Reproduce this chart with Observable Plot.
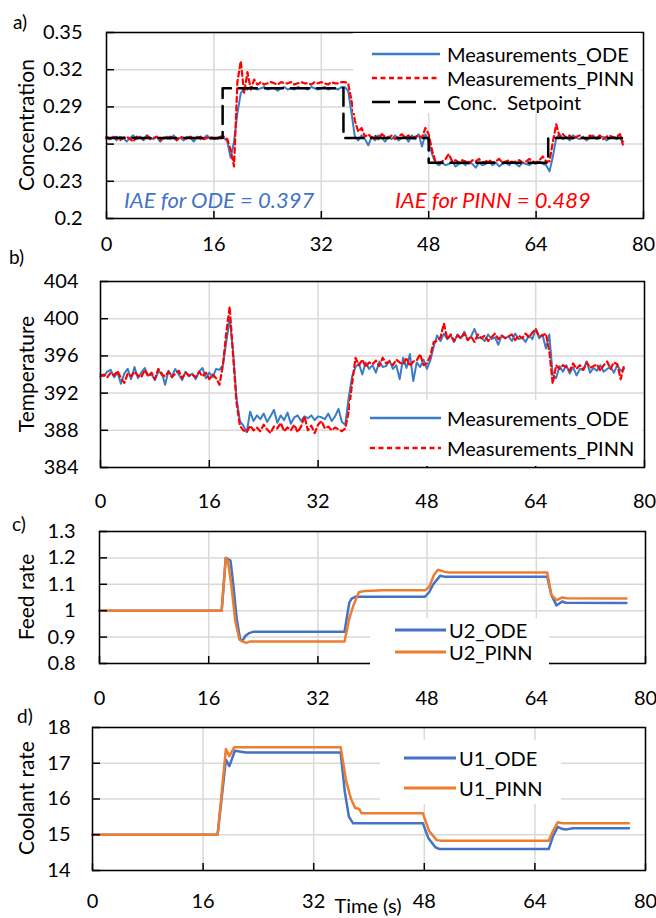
<!DOCTYPE html>
<html><head><meta charset="utf-8">
<script src="https://cdn.jsdelivr.net/npm/d3@7"></script>
<script src="https://cdn.jsdelivr.net/npm/@observablehq/plot@0.6"></script>
<style>
html,body{margin:0;padding:0;background:#fff;}
#fig{position:relative;width:656px;height:918px;overflow:hidden;font-family:Lato,"Open Sans",sans-serif;background:#fff;}
</style></head><body><div id="fig"></div>
<script>
// ---------- data ----------
const tStep = 0.5; // measurement sampling interval (s), first sample at t = 0
const concODE = [0.265,0.264,0.266,0.263,0.266,0.265,0.262,0.265,0.267,0.264,0.266,0.263,0.267,0.265,0.264,0.266,0.262,0.265,0.266,0.264,0.267,0.264,0.265,0.263,0.266,0.265,0.262,0.266,0.264,0.265,0.267,0.264,0.265,0.264,0.266,
 0.265,0.262,0.249,0.262,0.285,0.301,0.305,
 0.304,0.306,0.305,0.304,0.305,0.306,0.304,0.305,0.305,0.303,0.305,0.306,0.304,0.305,0.304,0.306,0.305,0.305,0.304,0.306,0.305,0.304,0.305,0.306,0.304,0.305,0.305,0.304,0.306,0.306,
 0.303,0.285,0.266,0.263,
 0.267,0.264,0.259,0.266,0.263,0.267,0.265,0.262,0.266,0.264,0.267,0.263,0.265,0.266,0.262,0.267,0.264,0.268,0.258,0.268,
 0.262,0.252,0.245,0.243,
 0.245,0.243,0.244,0.246,0.242,0.244,0.245,0.243,0.246,0.244,0.241,0.245,0.243,0.244,0.246,0.243,0.245,0.242,0.244,0.245,0.243,0.246,0.244,0.242,0.245,0.244,0.243,0.245,0.244,0.246,0.244,0.243,
 0.238,0.25,0.265,0.268,
 0.264,0.266,0.263,0.267,0.265,0.264,0.266,0.263,0.265,0.267,0.264,0.265,0.266,0.263,0.265,0.266,0.264,0.265,0.262];
const concPINN = [0.266,0.264,0.265,0.266,0.263,0.265,0.266,0.264,0.262,0.266,0.265,0.264,0.267,0.264,0.265,0.266,0.263,0.265,0.264,0.266,0.265,0.263,0.266,0.265,0.264,0.266,0.264,0.265,0.266,0.264,0.265,0.266,0.264,0.265,0.266,
 0.266,0.264,0.255,0.242,0.31,0.327,0.301,
 0.318,0.304,0.312,0.308,0.310,0.308,0.309,0.310,0.309,0.308,0.310,0.309,0.309,0.310,0.308,0.309,0.310,0.309,0.309,0.308,0.310,0.309,0.310,0.309,0.308,0.310,0.309,0.309,0.310,0.310,
 0.309,0.295,0.279,0.270,
 0.273,0.266,0.268,0.265,0.267,0.264,0.268,0.266,0.265,0.267,0.264,0.266,0.268,0.265,0.267,0.264,0.266,0.267,0.265,0.273,
 0.268,0.255,0.246,0.245,
 0.246,0.248,0.252,0.246,0.247,0.245,0.247,0.246,0.244,0.247,0.246,0.248,0.245,0.246,0.247,0.245,0.246,0.248,0.245,0.246,0.247,0.245,0.246,0.247,0.245,0.246,0.248,0.246,0.245,0.247,0.250,0.246,
 0.246,0.262,0.276,0.266,
 0.268,0.265,0.267,0.264,0.266,0.267,0.265,0.264,0.267,0.266,0.265,0.267,0.264,0.266,0.267,0.265,0.266,0.268,0.258];
const setpointT = [0,17.3,35.3,48,65.8,76.8];
const setpointV = [0.265,0.305,0.265,0.245,0.265,0.265];

const tempODE = [394.0,393.8,394.3,394.5,393.7,394.2,393.0,394.1,394.6,393.5,394.8,393.6,394.2,394.7,393.9,394.0,393.4,394.3,394.2,392.9,394.4,393.8,394.6,394.0,393.4,394.3,393.8,394.1,393.5,394.3,394.7,393.6,394.2,393.7,394.6,
 394.5,395.0,397.5,400.0,396.5,391.5,389.0,
 388.5,387.8,390.0,389.0,389.6,389.2,389.8,388.9,389.5,390.2,388.8,389.6,389.1,389.9,388.7,389.4,389.6,389.0,389.5,389.3,389.6,389.1,389.5,389.4,389.2,389.8,389.0,389.5,390.3,388.9,
 388.6,391.5,393.8,394.8,
 395.2,394.0,395.3,394.6,395.0,394.2,395.4,394.8,394.9,395.5,394.6,395.0,393.5,395.8,394.7,396.2,393.3,395.3,394.8,395.6,
 394.6,395.5,397.0,398.2,
 397.6,398.4,397.8,398.2,397.5,398.3,397.9,398.6,397.7,398.1,398.9,397.9,398.0,397.6,398.3,397.8,398.0,397.2,398.2,397.9,398.1,397.6,398.4,397.8,398.0,397.5,398.2,397.8,398.9,397.9,398.3,396.8,
 398.3,394.0,393.6,394.9,
 394.3,395.0,394.1,394.8,393.9,394.6,394.5,395.4,394.2,394.7,394.4,395.0,394.3,394.6,394.8,394.2,395.0,394.4,394.6];
const tempPINN = [393.8,394.0,393.7,394.2,393.9,394.4,393.6,393.1,394.1,393.8,394.3,393.9,393.7,394.5,393.8,394.2,393.5,394.6,394.0,393.8,394.3,393.7,394.1,394.4,393.6,394.2,393.9,394.0,393.7,394.3,393.8,394.2,393.5,394.0,393.6,
 392.9,395.0,398.5,401.3,396.0,391.0,388.5,
 388.0,387.8,388.5,388.0,388.3,387.9,388.6,388.1,387.7,388.4,388.2,388.8,387.9,388.3,388.0,388.6,387.8,388.4,389.5,388.0,388.5,387.7,388.6,389.0,388.2,388.4,388.0,388.3,388.1,387.9,
 388.2,390.0,393.0,395.8,
 395.0,395.6,394.8,395.3,395.1,395.5,394.9,395.8,395.2,395.4,395.0,395.6,395.3,395.1,395.8,394.9,395.4,395.5,396.2,395.0,
 395.2,396.0,397.5,397.6,
 398.0,399.5,397.8,398.3,397.6,398.2,397.9,398.4,397.7,398.1,397.5,398.3,397.9,398.2,397.6,398.0,398.4,397.8,398.2,397.9,398.1,398.3,397.7,398.2,397.9,398.4,398.0,398.5,398.9,398.1,398.2,398.4,
 396.5,393.0,395.0,394.6,
 395.0,394.8,394.4,395.2,394.6,395.0,394.5,395.3,394.7,394.9,395.1,394.4,395.0,395.4,394.6,395.3,395.1,393.5,395.0];

const u2OdeT  = [0,17.9,18.5,19.2,19.6,20.1,20.6,20.9,21.4,21.9,22.5,35.9,36.6,36.9,37.5,47.7,48.3,48.9,49.9,50.5,65.6,66.2,66.95,67.8,68.3,77.2];
const u2OdeV  = [1.0,1.0,1.2,1.19,1.1,0.97,0.893,0.885,0.905,0.915,0.92,0.92,1.03,1.045,1.053,1.053,1.07,1.10,1.132,1.129,1.129,1.06,1.02,1.035,1.03,1.029];
const u2PinnT = [0,17.9,18.5,18.8,19.3,19.9,20.5,21.0,21.5,22.0,35.9,36.6,37.2,38.0,38.9,41.5,47.7,48.3,49.0,49.6,50.5,51.2,65.6,66.2,66.95,67.8,68.5,77.2];
const u2PinnV = [1.0,1.0,1.2,1.19,1.1,0.96,0.89,0.883,0.878,0.883,0.883,0.97,1.02,1.07,1.075,1.077,1.077,1.09,1.135,1.155,1.148,1.145,1.145,1.06,1.04,1.05,1.047,1.046];

const u1OdeT  = [0,18.1,19.3,19.8,20.6,21.5,22.2,35.9,36.5,37.1,37.7,47.8,48.6,49.6,50.2,66.0,66.6,67.3,68.0,68.6,69.5,77.6];
const u1OdeV  = [15,15,17.1,16.92,17.35,17.32,17.3,17.3,16.2,15.5,15.32,15.32,14.9,14.65,14.6,14.6,14.95,15.22,15.16,15.15,15.18,15.18];
const u1PinnT = [0,18.1,19.3,19.8,20.5,21.5,35.9,36.7,37.4,38.0,38.6,38.9,47.8,48.7,49.8,50.5,66.0,66.6,67.3,68.0,77.6];
const u1PinnV = [15,15,17.4,17.2,17.45,17.45,17.45,16.5,16.0,15.75,15.72,15.6,15.6,15.1,14.85,14.83,14.83,15.1,15.35,15.32,15.32];

const xTicks  = [0,16,32,48,64,80];
const yTicksA = [0.2,0.23,0.26,0.29,0.32,0.35];
const yTicksB = [384,388,392,396,400,404];
const yTicksC = [0.8,0.9,1,1.1,1.2,1.3];
const yTicksD = [14,15,16,17,18];

const panelLabels = ["a)","b)","c)","d)"];
const yTitles = ["Concentration","Temperature","Feed rate","Coolant rate"];
const xTitle = "Time (s)";
const legendA = ["Measurements_ODE","Measurements_PINN","Conc.  Setpoint"];
const legendB = ["Measurements_ODE","Measurements_PINN"];
const legendC = ["U2_ODE","U2_PINN"];
const legendD = ["U1_ODE","U1_PINN"];
const iaeODE = "IAE for ODE = 0.397";
const iaePINN = "IAE for PINN = 0.489";

// ---------- helpers ----------
const BLUE_M = "#3a7dc4", RED = "#ff0000", BLUE = "#4472c4", ORANGE = "#ed7d31";
const RED_DASH = "5,3.5";
const sampled = vals => vals.map((v, i) => ({t: i * tStep, v}));
const paired = (ts, vs) => ts.map((t, i) => ({t, v: vs[i]}));
const fig = document.getElementById("fig");

function panel({top, height, mt, mb, ml, mr, yDomain, yTicks, xPad, yPad, marks}) {
  const innerH = height - mt - mb;
  const innerW = 656 - ml - mr;
  const svg = Plot.plot({
    width: 656, height,
    marginTop: mt, marginBottom: mb, marginLeft: ml, marginRight: mr,
    style: {fontFamily: "Lato, 'Open Sans', sans-serif", fontSize: "20px", color: "#000", background: "transparent", overflow: "visible"},
    x: {domain: [0, 80]},
    y: {domain: yDomain},
    marks: [
      Plot.gridX({ticks: xTicks, stroke: "#d9d9d9", strokeOpacity: 1, strokeWidth: 1.5}),
      Plot.gridY({ticks: yTicks, stroke: "#d9d9d9", strokeOpacity: 1, strokeWidth: 1.5}),
      ...marks,
      Plot.ruleX(xTicks, {stroke: "#000", strokeWidth: 1.5, insetTop: innerH - 7}),
      Plot.ruleY(yTicks, {stroke: "#000", strokeWidth: 1.5, insetRight: innerW - 8}),
      Plot.frame({stroke: "#000", strokeWidth: 1.5}),
      Plot.axisX({ticks: xTicks, tickSize: 0, tickPadding: xPad, label: null, tickFormat: d => String(d), fill: "#000"}),
      Plot.axisY({ticks: yTicks, tickSize: 0, tickPadding: yPad, label: null, tickFormat: d3.format("~g"), fill: "#000"})
    ]
  });
  svg.style.position = "absolute";
  svg.style.top = top + "px";
  svg.style.left = "0px";
  fig.appendChild(svg);
}

// a) Concentration
panel({top: 0, height: 258, mt: 32, mb: 40, ml: 106, mr: 13, yDomain: [0.2, 0.35], yTicks: yTicksA, xPad: 18, yPad: 24,
  marks: [
    Plot.line(sampled(concODE), {x: "t", y: "v", stroke: BLUE_M, strokeWidth: 2}),
    Plot.line(sampled(concPINN), {x: "t", y: "v", stroke: RED, strokeWidth: 2.2, strokeDasharray: RED_DASH}),
    Plot.line(paired(setpointT, setpointV), {x: "t", y: "v", curve: "step-after", stroke: "#000", strokeWidth: 2.5, strokeDasharray: "18,8"})
  ]});
// b) Temperature
panel({top: 258, height: 260, mt: 23, mb: 51, ml: 100, mr: 12, yDomain: [384, 404], yTicks: yTicksB, xPad: 26, yPad: 22,
  marks: [
    Plot.line(sampled(tempODE), {x: "t", y: "v", stroke: BLUE_M, strokeWidth: 2}),
    Plot.line(sampled(tempPINN), {x: "t", y: "v", stroke: RED, strokeWidth: 2.2, strokeDasharray: RED_DASH})
  ]});
// c) Feed rate
panel({top: 518, height: 195, mt: 13, mb: 50, ml: 99, mr: 11, yDomain: [0.8, 1.3], yTicks: yTicksC, xPad: 27, yPad: 24,
  marks: [
    Plot.line(paired(u2OdeT, u2OdeV), {x: "t", y: "v", stroke: BLUE, strokeWidth: 2.5}),
    Plot.line(paired(u2PinnT, u2PinnV), {x: "t", y: "v", stroke: ORANGE, strokeWidth: 2.5})
  ]});
// d) Coolant rate
panel({top: 713, height: 205, mt: 14, mb: 48, ml: 92, mr: 11, yDomain: [14, 18], yTicks: yTicksD, xPad: 23, yPad: 22,
  marks: [
    Plot.line(paired(u1OdeT, u1OdeV), {x: "t", y: "v", stroke: BLUE, strokeWidth: 2.5}),
    Plot.line(paired(u1PinnT, u1PinnV), {x: "t", y: "v", stroke: ORANGE, strokeWidth: 2.5})
  ]});

// ---------- overlay: labels, titles, legends ----------
const ov = d3.select(fig).append("svg")
  .attr("width", 656).attr("height", 918)
  .style("position", "absolute").style("left", "0px").style("top", "0px")
  .style("font-family", "Lato, 'Open Sans', sans-serif").style("fill", "#000");

const labelPos = [[13, 29], [9, 264], [12, 531], [17, 723]];
panelLabels.forEach((s, i) => ov.append("text").attr("x", labelPos[i][0]).attr("y", labelPos[i][1]).attr("font-size", 19).text(s));

const titleY = [125, 374, 597, 798];
yTitles.forEach((s, i) => ov.append("text")
  .attr("transform", `translate(25,${titleY[i]}) rotate(-90)`)
  .attr("text-anchor", "middle").attr("dominant-baseline", "central")
  .attr("font-size", 21).text(s));

ov.append("text").attr("x", 368).attr("y", 913).attr("text-anchor", "middle").attr("font-size", 20).text(xTitle);

ov.append("text").attr("x", 124).attr("y", 199).attr("dominant-baseline", "central")
  .attr("font-size", 22).attr("font-style", "italic").attr("fill", BLUE).text(iaeODE);
ov.append("text").attr("x", 395).attr("y", 199).attr("dominant-baseline", "central")
  .attr("font-size", 22).attr("font-style", "italic").attr("fill", RED).text(iaePINN);

function legend(box, x1, x2, tx, items) {
  ov.append("rect").attr("x", box[0]).attr("y", box[1]).attr("width", box[2]).attr("height", box[3]).attr("fill", "#fff");
  items.forEach(it => {
    ov.append("line").attr("x1", x1).attr("x2", x2).attr("y1", it.y).attr("y2", it.y)
      .attr("stroke", it.color).attr("stroke-width", it.w).attr("stroke-dasharray", it.dash || null);
    ov.append("text").attr("x", tx).attr("y", it.y).attr("dominant-baseline", "central")
      .attr("font-size", 20).style("white-space", "pre").text(it.label);
  });
}
legend([353, 33, 288, 80], 372, 440, 447, [
  {y: 54, color: BLUE_M, w: 2.5, label: legendA[0]},
  {y: 78, color: RED, w: 2.5, dash: RED_DASH, label: legendA[1]},
  {y: 102, color: "#000", w: 2.5, dash: "18,8", label: legendA[2]}
]);
legend([350, 400, 292, 66], 370, 441, 447, [
  {y: 418, color: BLUE_M, w: 2.5, label: legendB[0]},
  {y: 448, color: RED, w: 2.5, dash: RED_DASH, label: legendB[1]}
]);
legend([370, 618, 179, 52], 395, 446, 449, [
  {y: 630, color: BLUE, w: 3, label: legendC[0]},
  {y: 652, color: ORANGE, w: 3, label: legendC[1]}
]);
legend([380, 740, 181, 64], 404, 456, 459, [
  {y: 758, color: BLUE, w: 3, label: legendD[0]},
  {y: 788, color: ORANGE, w: 3, label: legendD[1]}
]);
</script></body></html>
